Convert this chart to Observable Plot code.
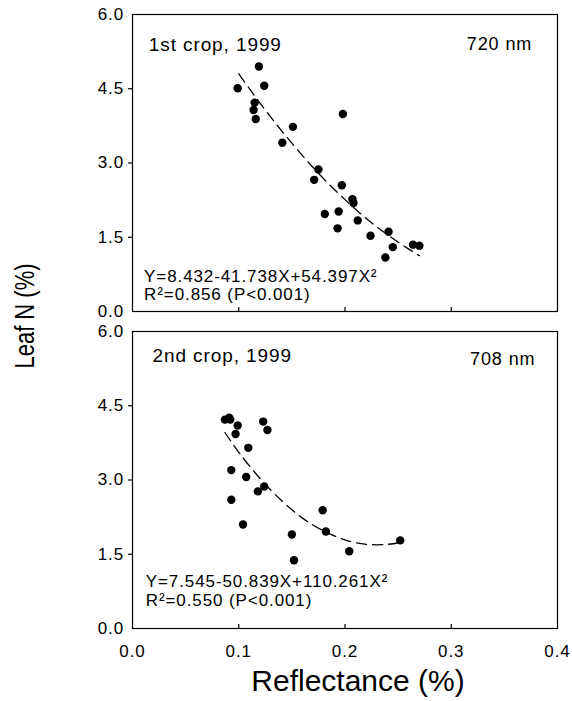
<!DOCTYPE html>
<html>
<head>
<meta charset="utf-8">
<script src="https://cdn.jsdelivr.net/npm/d3@7"></script>
<script src="https://cdn.jsdelivr.net/npm/@observablehq/plot@0.6"></script>
<style>body{margin:0;background:#fff}</style>
</head>
<body>
<div id="chart"></div>
<script>
// Panels
const panels = ["1st", "2nd"];
const panelTitles = ["1st crop, 1999", "2nd crop, 1999"];
const wavelengths = ["720 nm", "708 nm"];
const equations = ["Y=8.432-41.738X+54.397X²", "Y=7.545-50.839X+110.261X²"];
const fits = ["R²=0.856 (P<0.001)", "R²=0.550 (P<0.001)"];

// 1st crop, 720 nm: observed points
const crop1X = [0.099, 0.119, 0.124, 0.115, 0.114, 0.116, 0.151, 0.141, 0.198, 0.175, 0.171, 0.197,
                0.181, 0.194, 0.193, 0.207, 0.208, 0.212, 0.224, 0.241, 0.245, 0.238, 0.264, 0.270];
const crop1Y = [4.51, 4.95, 4.56, 4.22, 4.07, 3.89, 3.73, 3.41, 3.99, 2.87, 2.66, 2.55,
                1.97, 2.02, 1.68, 2.27, 2.19, 1.84, 1.53, 1.61, 1.30, 1.09, 1.35, 1.33];
// 1st crop fitted curve
const fit1X = [0.10, 0.12, 0.14, 0.16, 0.18, 0.20, 0.22, 0.24, 0.26, 0.27];
const fit1Y = [4.80, 4.21, 3.66, 3.15, 2.68, 2.26, 1.88, 1.55, 1.26, 1.13];

// 2nd crop, 708 nm: observed points
const crop2X = [0.087, 0.091, 0.092, 0.099, 0.097, 0.123, 0.127, 0.109, 0.093, 0.107, 0.124, 0.118,
                0.093, 0.104, 0.150, 0.152, 0.179, 0.182, 0.204, 0.252];
const crop2Y = [4.22, 4.26, 4.22, 4.10, 3.93, 4.18, 4.01, 3.65, 3.20, 3.06, 2.87, 2.77,
                2.60, 2.10, 1.90, 1.38, 2.39, 1.96, 1.56, 1.78];
// 2nd crop fitted curve
const fit2X = [0.087, 0.10, 0.12, 0.14, 0.16, 0.18, 0.20, 0.22, 0.24, 0.252];
const fit2Y = [3.96, 3.56, 3.03, 2.59, 2.23, 1.97, 1.79, 1.70, 1.70, 1.74];

// Axis ticks
const xTickLabels = [0, 0.1, 0.2, 0.3, 0.4];
const xTickMarks = [0.1, 0.2, 0.3];
const yTickLabels = [0, 1.5, 3, 4.5, 6];
const yTickMarks = [1.5, 3, 4.5];

const dots = [
  ...crop1X.map((x, i) => ({panel: panels[0], x, y: crop1Y[i]})),
  ...crop2X.map((x, i) => ({panel: panels[1], x, y: crop2Y[i]}))
];
const curves = [
  ...fit1X.map((x, i) => ({panel: panels[0], x, y: fit1Y[i]})),
  ...fit2X.map((x, i) => ({panel: panels[1], x, y: fit2Y[i]}))
];
const one = (p, t) => [{panel: p, t}];
const fmt = d3.format(".1f");

const chart = Plot.plot({
  width: 572,
  height: 701,
  marginLeft: 132,
  marginRight: 15,
  marginTop: 14,
  marginBottom: 73,
  style: {fontFamily: "'Liberation Sans', Arial, sans-serif", fontSize: "17px", letterSpacing: "0.9px", color: "black", background: "white"},
  x: {domain: [0, 0.4]},
  y: {domain: [0, 6]},
  fy: {domain: panels, axis: null, paddingInner: 0.0631, paddingOuter: 0, round: false},
  marks: [
    Plot.frame({stroke: "black", strokeWidth: 1.2}),
    Plot.axisY({ticks: yTickMarks, tickSize: 4, tickFormat: () => "", label: null, strokeWidth: 1.2}),
    Plot.axisY({ticks: yTickLabels, tickSize: 0, tickPadding: 8.4, tickFormat: fmt, label: null, fontSize: 17}),
    Plot.axisX({ticks: xTickMarks, tickSize: -4, tickFormat: () => "", label: null, facetAnchor: null, strokeWidth: 1.2}),
    Plot.axisX({ticks: xTickLabels, tickSize: 0, tickPadding: 16.6, tickFormat: fmt, label: null, fontSize: 17}),
    Plot.line(curves, {x: "x", y: "y", fy: "panel", stroke: "black", strokeWidth: 1.3, strokeDasharray: "10,6", curve: "natural"}),
    Plot.dot(dots, {x: "x", y: "y", fy: "panel", r: 4.2, fill: "black", stroke: "none"}),
    // panel titles
    Plot.text(one(panels[0], panelTitles[0]), {fy: "panel", text: "t", frameAnchor: "top-left", textAnchor: "start", lineAnchor: "top", dx: 16.3, dy: 22.5, fontSize: 19}),
    Plot.text(one(panels[1], panelTitles[1]), {fy: "panel", text: "t", frameAnchor: "top-left", textAnchor: "start", lineAnchor: "top", dx: 20, dy: 17.2, fontSize: 19}),
    Plot.text(one(panels[0], wavelengths[0]), {fy: "panel", text: "t", frameAnchor: "top-right", textAnchor: "end", lineAnchor: "top", dx: -25.3, dy: 22.5, fontSize: 18}),
    Plot.text(one(panels[1], wavelengths[1]), {fy: "panel", text: "t", frameAnchor: "top-right", textAnchor: "end", lineAnchor: "top", dx: -22, dy: 20.5, fontSize: 18}),
    // equations
    Plot.text(one(panels[0], equations[0] + "\n" + fits[0]), {fy: "panel", text: "t", frameAnchor: "bottom-left", textAnchor: "start", lineAnchor: "bottom", lineHeight: 1.06, dx: 11.6, dy: -11, fontSize: 17}),
    Plot.text(one(panels[1], equations[1] + "\n" + fits[1]), {fy: "panel", text: "t", frameAnchor: "bottom-left", textAnchor: "start", lineAnchor: "bottom", lineHeight: 1.08, dx: 13.3, dy: -23, fontSize: 17}),
    // axis titles
    Plot.text(one(panels[1], "Reflectance (%)"), {fy: "panel", text: "t", frameAnchor: "bottom", textAnchor: "middle", lineAnchor: "bottom", dx: 13, dy: 62, fontSize: 30}),
    Plot.text(one(panels[1], "Leaf N (%)"), {fy: "panel", text: "t", frameAnchor: "top-left", textAnchor: "middle", lineAnchor: "bottom", rotate: -90, dx: -98.7, dy: -15.5, fontSize: 28})
  ]
});

d3.select(chart).selectAll("text").each(function () {
  const s = this.textContent;
  if (s.startsWith("Reflectance")) d3.select(this).attr("letter-spacing", 0);
  if (s.startsWith("Leaf N")) d3.select(this).attr("letter-spacing", 0).attr("textLength", 105).attr("lengthAdjust", "spacingAndGlyphs");
});

document.getElementById("chart").appendChild(chart);
</script>
</body>
</html>
